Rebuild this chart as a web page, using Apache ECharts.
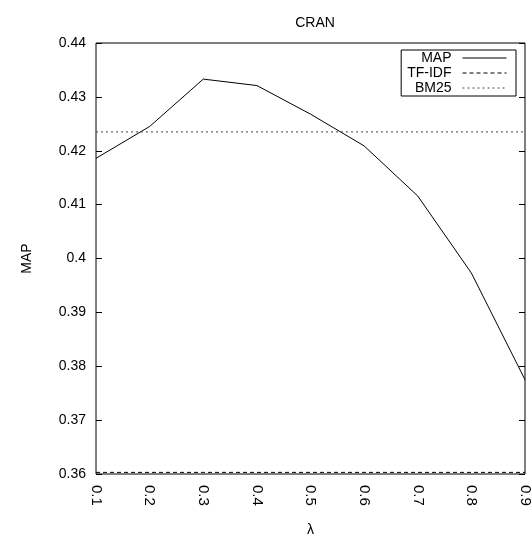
<!DOCTYPE html>
<html><head><meta charset="utf-8">
<script src="https://cdn.jsdelivr.net/npm/echarts@6/dist/echarts.min.js"></script>
<style>html,body{margin:0;padding:0;background:#fff}#c{width:532px;height:537px}</style>
</head><body><div id="c"></div>
<script>
const lambdas = ['0.1','0.2','0.3','0.4','0.5','0.6','0.7','0.8','0.9'];
const mapValues = [0.4186, 0.4245, 0.4333, 0.4321, 0.4268, 0.4209, 0.4116, 0.3973, 0.3775];
const tfidfValues = [0.3603, 0.3603, 0.3603, 0.3603, 0.3603, 0.3603, 0.3603, 0.3603, 0.3603];
const bm25Values = [0.4235, 0.4235, 0.4235, 0.4235, 0.4235, 0.4235, 0.4235, 0.4235, 0.4235];
const FONT = 'Liberation Sans';
const chart = echarts.init(document.getElementById('c'), null, {renderer: 'canvas'});
chart.setOption({
  animation: false,
  backgroundColor: '#fff',
  textStyle: {fontFamily: FONT, color: '#000'},
  title: {text: 'CRAN', left: 310, top: 11, textAlign: 'center',
    textStyle: {fontFamily: FONT, fontSize: 14, fontWeight: 'normal', color: '#000'}},
  grid: {left: 96, right: 7, top: 43, bottom: 63, show: true, borderColor: '#000', borderWidth: 1,
    backgroundColor: 'transparent', containLabel: false, outerBoundsMode: 'none'},
  legend: {
    orient: 'vertical', right: 16, top: 50, align: 'right',
    borderColor: '#000', borderWidth: 1, padding: [1, 9, 1, 6], itemGap: 1,
    itemWidth: 44, itemHeight: 14,
    itemStyle: {opacity: 0},
    lineStyle: {width: 1},
    data: [{name: 'MAP'}, {name: 'TF-IDF'}, {name: 'BM25'}],
    formatter: n => '{a|' + n + '}',
    textStyle: {fontFamily: FONT, fontSize: 14, color: '#000',
      rich: {a: {width: 50, align: 'right', fontFamily: FONT, fontSize: 14, padding: [0, 6, 0, 0], color: '#000'}}}
  },
  xAxis: {
    type: 'category', data: lambdas, boundaryGap: false,
    name: 'λ', nameLocation: 'middle', nameGap: 49,
    nameTextStyle: {fontFamily: FONT, fontSize: 14, color: '#000'},
    axisLine: {show: false}, axisTick: {show: false}, splitLine: {show: false},
    axisLabel: {rotate: -90, margin: 11, fontFamily: FONT, fontSize: 15, color: '#000', interval: 0}
  },
  yAxis: [{
    type: 'value', min: 0.36, max: 0.44, interval: 0.01,
    name: 'MAP', nameLocation: 'middle', nameGap: 62,
    nameTextStyle: {fontFamily: FONT, fontSize: 14, color: '#000'},
    axisLine: {show: false}, splitLine: {show: false},
    axisTick: {show: true, inside: true, length: 6, lineStyle: {color: '#000'}},
    axisLabel: {margin: 10, fontFamily: FONT, fontSize: 14, color: '#000'}
  }, {
    type: 'value', min: 0.36, max: 0.44, interval: 0.01, position: 'right',
    axisLine: {show: false}, splitLine: {show: false},
    axisTick: {show: true, inside: true, length: 6, lineStyle: {color: '#000'}},
    axisLabel: {show: false}
  }],
  series: [
    {name: 'MAP', type: 'line', data: mapValues, symbol: 'none', z: 3,
      lineStyle: {color: '#000', width: 1, type: 'solid'}, itemStyle: {color: '#000'}},
    {name: 'TF-IDF', type: 'line', data: tfidfValues, symbol: 'none',
      lineStyle: {color: '#000', width: 1, type: [4, 3]}, itemStyle: {color: '#000'}},
    {name: 'BM25', type: 'line', data: bm25Values, symbol: 'none',
      lineStyle: {color: '#444', width: 1, type: [2, 3]}, itemStyle: {color: '#444'}}
  ]
});
</script></body></html>
